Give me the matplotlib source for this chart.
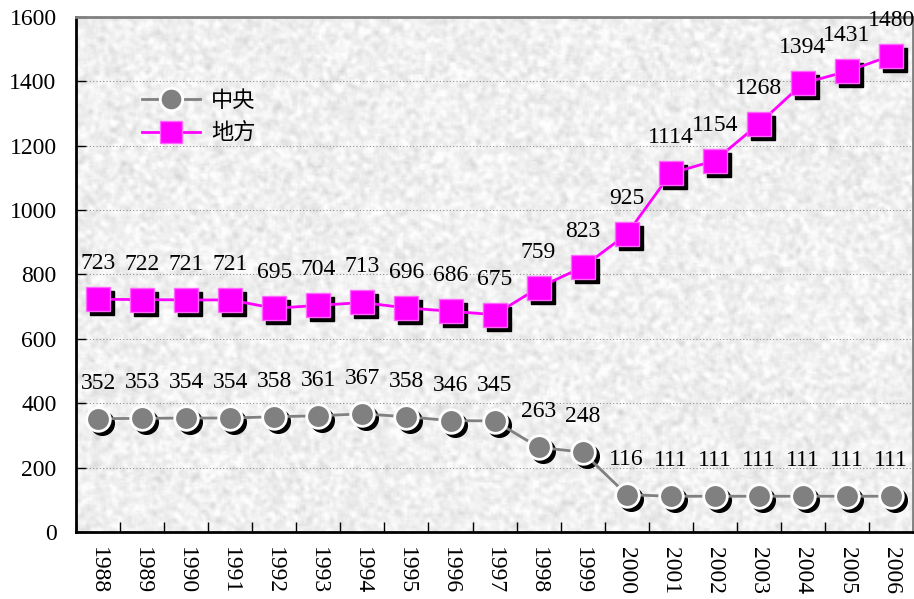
import numpy as np
import matplotlib.pyplot as plt
import matplotlib.transforms as mtransforms

years = [str(y) for y in range(1988, 2007)]
central = [352, 353, 354, 354, 358, 361, 367, 358, 346, 345,
           263, 248, 116, 111, 111, 111, 111, 111, 111]
local = [723, 722, 721, 721, 695, 704, 713, 696, 686, 675,
         759, 823, 925, 1114, 1154, 1268, 1394, 1431, 1480]

num_font = 'Liberation Serif'
cjk_font = ['Noto Sans CJK SC', 'DejaVu Sans']

fig = plt.figure(figsize=(9.14, 5.99), dpi=100)
ax = fig.add_axes([0.0832, 0.1119, 0.9158, 0.8597])

# light granite-like background texture
rng = np.random.default_rng(7)
tex = rng.normal(0, 1, (260, 420))


def box_blur(a, k):
    ker = np.ones(k) / k
    a = np.apply_along_axis(lambda r: np.convolve(r, ker, mode='same'), 1, a)
    a = np.apply_along_axis(lambda c: np.convolve(c, ker, mode='same'), 0, a)
    return a


soft = box_blur(tex, 3)
soft = (soft - soft.mean()) / soft.std()
fine = box_blur(tex, 2)
fine = (fine - fine.mean()) / fine.std()
img = 0.94 + 0.02 * soft + 0.01 * fine
img = np.clip(img, 0.82, 0.995)
ax.imshow(img, cmap='gray', vmin=0, vmax=1, extent=(0, 1, 0, 1),
          transform=ax.transAxes, aspect='auto', zorder=0, interpolation='bilinear')

x = np.arange(len(years))
shadow = ax.transData + mtransforms.ScaledTranslation(4 / 100, -4 / 100, fig.dpi_scale_trans)

# marker shadows
ax.plot(x, central, ls='none', marker='o', ms=17, mfc='black', mec='black',
        transform=shadow, zorder=2)
ax.plot(x, local, ls='none', marker='s', ms=17, mfc='black', mec='black',
        transform=shadow, zorder=2)

ax.plot(x, central, color='#808080', lw=2, marker='o', ms=17, mfc='#808080',
        mec='white', mew=2, zorder=3, label='中央')
ax.plot(x, local, color='#ff00ff', lw=2, marker='s', ms=17, mfc='#ff00ff',
        mec='#ff66ff', mew=1, zorder=3, label='地方')

for xi, v in zip(x, central):
    ax.annotate(str(v), (xi, v), xytext=(0, 18), textcoords='offset points',
                ha='center', va='bottom', fontsize=17, family=num_font,
                zorder=4, annotation_clip=False)
for xi, v in zip(x, local):
    ax.annotate(str(v), (xi, v), xytext=(0, 18), textcoords='offset points',
                ha='center', va='bottom', fontsize=17, family=num_font,
                zorder=4, annotation_clip=False)

ax.set_xlim(-0.5, len(years) - 0.5)
ax.set_ylim(0, 1600)
ax.set_yticks(range(0, 1601, 200))
ax.set_yticklabels([str(t) for t in range(0, 1601, 200)], family=num_font, fontsize=17)
ax.set_xticks(x)
ax.set_xticklabels(years, rotation=-90, family=num_font, fontsize=17)
ax.set_xticks(np.arange(-0.5, len(years), 1), minor=True)
ax.tick_params(axis='x', which='major', length=0, pad=11)
ax.tick_params(axis='x', which='minor', direction='in', length=7, width=1)
ax.tick_params(axis='y', direction='in', length=7, width=1, pad=14)

ax.grid(axis='y', color='#909090', ls=(0, (1, 2)), lw=0.8, zorder=1)
ax.set_axisbelow(True)

for side in ['left', 'bottom']:
    ax.spines[side].set_linewidth(2)
    ax.spines[side].set_color('black')
for side in ['top', 'right']:
    ax.spines[side].set_linewidth(2)
    ax.spines[side].set_color('#808080')

leg = ax.legend(loc='upper left', bbox_to_anchor=(0.055, 0.90), frameon=False,
                prop={'family': cjk_font, 'size': 16}, handlelength=2.6,
                labelspacing=0.45, handletextpad=0.5, markerscale=0.95)

fig.savefig('out.png', dpi=100)
